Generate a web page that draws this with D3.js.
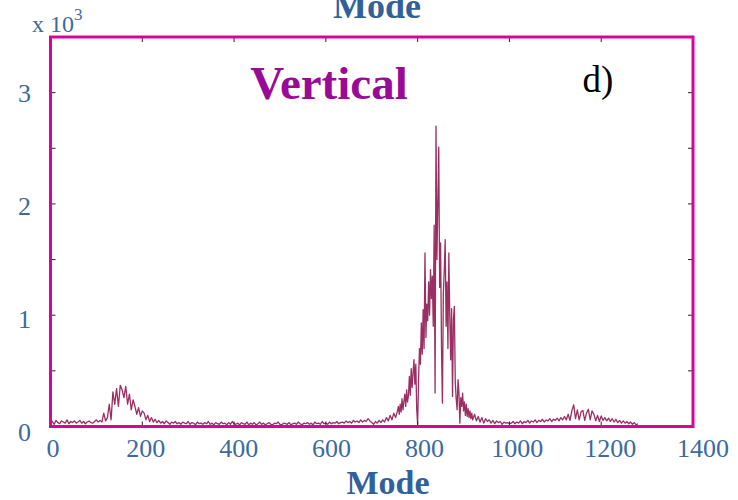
<!DOCTYPE html>
<html>
<head>
<meta charset="utf-8">
<script src="https://cdn.jsdelivr.net/npm/d3@7/dist/d3.min.js"></script>
<style>
  html, body { margin: 0; padding: 0; background: #ffffff; }
  svg { display: block; }
</style>
</head>
<body>
<svg id="chart" width="738" height="500"></svg>
<script>
// Mode spectrum, vertical component. Counts per mode, in segments of equal mode spacing.
const countsLeft = [30,45,20,55,35,25,50,40,30,60,25,45,35,50,30,40,55,30,45,25,40,50,35,30,45,60,40,55];
const countsLeftStart = 0, countsLeftStep = 4;

const countsBump = [
  40,120,50,80,200,60,310,200,340,180,
  370,330,260,360,200,290,150,240,180,110,
  170,90,140,120,60,100,45,80,40,65,
  35];
const countsBumpStart = 112, countsBumpStep = 4;

const countsFlat = [
  55,30,45,25,50,35,20,40,30,45,
  25,35,20,40,30,25,45,20,35,30,
  15,40,25,30,20,35,25,45,20,30,
  15,35,25,20,40,25,30,15,35,20,
  45,25,20,30,15,35,25,20,40,15,
  30,20,35,15,25,40,20,30,15,25,
  35,20,15,30,25,40,20,15,30,25,
  20,35,15,25,30,20,40,25,15,30,
  25,35,20,30,15,40,25,30,20,45,
  25,30,20,40,25,35,30,45,25,35,
  40,30,50,35,45,30,55,40,50,35,
  60,40,55,45,70,50];
const countsFlatStart = 236, countsFlatStep = 4;

const countsRise = [35,20,45,30,55,35,60,40,80,50,100,60,120,80,140];
const countsRiseStart = 700, countsRiseStep = 4;

const countsPeak = [
  180,110,200,130,250,150,220,290,180,330,
  220,280,450,280,520,350,480,600,380,560,
  150,20,420,700,560,930,650,1050,700,1560,
  800,1100,950,1300,1000,1410,1150,1350,900,1810,
  300,2700,1500,2000,2510,1250,1650,700,210,1200,
  1400,1680,900,1300,700,1560,1000,600,1060,270,
  960,1080,400,250,150,420,300,30,260,180,
  300,140,220,100,200,90,160,80,140,70,
  120,60];
const countsPeakStart = 758, countsPeakStep = 2;

const countsTail = [
  110,50,90,40,80,30,70,45,60,30,
  55,25,50,35,45,20,40,30,35,25,
  30,45,25,40,30,50,25,45,35,55,
  30,50,40,60,35,55,45,65,40,60,
  50,70,45,65,55,75,50,80,60,90,
  60,110,55,140,195,70,150,60,130,145,
  55,120,155,60,140,110,50,100,45,95,
  55,80,50,75,45,70,40,65,35,55,
  30,50,30,45,25,40,20,35,15,25];
const countsTailStart = 924, countsTailStep = 4;

const xTicks = [0, 200, 400, 600, 800, 1000, 1200, 1400];
const yTicks = [0, 1000, 2000, 3000];
const yMinorTicks = [500, 1000, 1500, 2000, 2500, 3000];

const segments = [
  [countsLeft, countsLeftStart, countsLeftStep],
  [countsBump, countsBumpStart, countsBumpStep],
  [countsFlat, countsFlatStart, countsFlatStep],
  [countsRise, countsRiseStart, countsRiseStep],
  [countsPeak, countsPeakStart, countsPeakStep],
  [countsTail, countsTailStart, countsTailStep]
];
const series = [];
segments.forEach(([vals, start, step]) => {
  vals.forEach((v, i) => series.push({ mode: start + i * step, count: v }));
});

const svg = d3.select("#chart");
const plot = { left: 50.5, right: 693, top: 37, bottom: 426.5 };

const x = d3.scaleLinear().domain([0, 1400]).range([plot.left, plot.right]);
const y = d3.scaleLinear().domain([0, 3500]).range([plot.bottom, plot.top]);
// tick labels sit on a slightly wider spread than the ticks themselves
const xLabel = d3.scaleLinear().domain([0, 1400]).range([53, 703]);
const yLabel = d3.scaleLinear().domain([0, 3000]).range([441, 102]);

const serif = "'Liberation Serif', 'Times New Roman', serif";
const blue = "#3c6aa0";

// spectrum line
svg.append("path")
  .datum(series)
  .attr("fill", "none")
  .attr("stroke", "#9b2f63")
  .attr("stroke-width", 1.3)
  .attr("stroke-linejoin", "round")
  .attr("d", d3.line().x(d => x(d.mode)).y(d => y(d.count)));

// inward ticks on all four sides
const tickLen = 5;
const ticks = svg.append("g").attr("stroke", "#222").attr("stroke-width", 1);
xTicks.forEach(t => {
  ticks.append("line").attr("x1", x(t)).attr("x2", x(t)).attr("y1", plot.bottom).attr("y2", plot.bottom - tickLen);
  ticks.append("line").attr("x1", x(t)).attr("x2", x(t)).attr("y1", plot.top).attr("y2", plot.top + tickLen);
});
yMinorTicks.forEach(t => {
  ticks.append("line").attr("x1", plot.left).attr("x2", plot.left + tickLen).attr("y1", y(t)).attr("y2", y(t));
  ticks.append("line").attr("x1", plot.right).attr("x2", plot.right - tickLen).attr("y1", y(t)).attr("y2", y(t));
});

// frame
svg.append("rect")
  .attr("x", plot.left).attr("y", plot.top)
  .attr("width", plot.right - plot.left).attr("height", plot.bottom - plot.top)
  .attr("fill", "none").attr("stroke", "#d4049c").attr("stroke-width", 3);

// x tick labels
svg.append("g").selectAll("text").data(xTicks).join("text")
  .attr("x", d => xLabel(d)).attr("y", 457)
  .attr("text-anchor", "middle")
  .attr("font-family", serif).attr("font-size", 26).attr("fill", blue)
  .text(d => d);

// y tick labels (thousands)
svg.append("g").selectAll("text").data(yTicks).join("text")
  .attr("x", 31).attr("y", d => yLabel(d))
  .attr("text-anchor", "end")
  .attr("font-family", serif).attr("font-size", 26).attr("fill", blue)
  .text(d => d / 1000);

// exponent label
const expo = svg.append("text").attr("x", 32).attr("y", 32)
  .attr("font-family", serif).attr("font-size", 24).attr("fill", blue);
expo.append("tspan").text("x 10");
expo.append("tspan").attr("dy", -12).attr("font-size", 17).text("3");

// axis titles
svg.append("text").attr("x", 388).attr("y", 494).attr("text-anchor", "middle")
  .attr("font-family", serif).attr("font-weight", "bold").attr("font-size", 34).attr("fill", "#31609a")
  .text("Mode");
svg.append("text").attr("x", 377).attr("y", 18).attr("text-anchor", "middle")
  .attr("font-family", serif).attr("font-weight", "bold").attr("font-size", 36).attr("fill", "#31609a")
  .text("Mode");

// panel annotations
svg.append("text").attr("x", 329).attr("y", 99).attr("text-anchor", "middle")
  .attr("font-family", serif).attr("font-weight", "bold").attr("font-size", 47).attr("fill", "#9a0a98")
  .text("Vertical");
svg.append("text").attr("x", 598).attr("y", 92).attr("text-anchor", "middle")
  .attr("font-family", serif).attr("font-size", 37).attr("fill", "#000")
  .text("d)");
</script>
</body>
</html>
